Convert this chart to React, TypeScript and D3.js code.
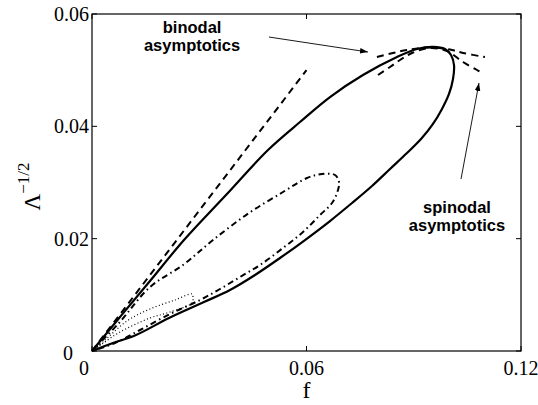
import { useEffect, useRef } from 'react'
import * as d3 from 'd3'

type Pt = [number, number]

const fTicks = [0, 0.06, 0.12]
const lambdaTicks = [0, 0.02, 0.04, 0.06]
const fTickLabels = ['0', '0.06', '0.12']
const lambdaTickLabels = ['0', '0.02', '0.04', '0.06']

// big closed loop (solid)
const solidLoop: Pt[] = [
  [0, 0], [0.00783, 0.00605], [0.01622, 0.01246], [0.02573, 0.01976], [0.03748, 0.02777],
  [0.04923, 0.03579], [0.05818, 0.04077], [0.06657, 0.04522], [0.0758, 0.04914],
  [0.08531, 0.05234], [0.09091, 0.05377], [0.09538, 0.05413], [0.09874, 0.05377],
  [0.10042, 0.0527], [0.10126, 0.05092], [0.10098, 0.04843], [0.09986, 0.04576],
  [0.0979, 0.0431], [0.09538, 0.04043], [0.09203, 0.03774], [0.08811, 0.03525],
  [0.08336, 0.03241], [0.07832, 0.02938], [0.07273, 0.02635], [0.06657, 0.02314],
  [0.05958, 0.01976], [0.05259, 0.01656], [0.0456, 0.01353], [0.0386, 0.01086],
  [0.03133, 0.00872], [0.02154, 0.00588], [0.01231, 0.00285], [0.00587, 0.00142], [0, 0],
]

// middle loop (dash-dot)
const dashDotLoop: Pt[] = [
  [0, 0], [0.00755, 0.00499], [0.01622, 0.01139], [0.02545, 0.01531], [0.03385, 0.01976],
  [0.04392, 0.02457], [0.05343, 0.02831], [0.06014, 0.0308], [0.06434, 0.03151],
  [0.06797, 0.03134], [0.06909, 0.03009], [0.06881, 0.02866], [0.06713, 0.02635],
  [0.06378, 0.02421], [0.05902, 0.02119], [0.05343, 0.01834], [0.04699, 0.01531],
  [0.0414, 0.01317], [0.0358, 0.01104], [0.03021, 0.00908], [0.02182, 0.00659],
  [0.01343, 0.00374], [0.00643, 0.00142], [0, 0],
]

// small loop (dotted)
const dottedLoop: Pt[] = [
  [0, 0], [0.00336, 0.00178], [0.00979, 0.00534], [0.01622, 0.00748], [0.02322, 0.00908],
  [0.02797, 0.01015], [0.02825, 0.00944], [0.02797, 0.00855], [0.02182, 0.00694],
  [0.01622, 0.00588], [0.00783, 0.00338], [0.0028, 0.00125], [0, 0],
]

// asymptotics (dashed)
const binodalLine: Pt[] = [[0, 0], [0.06, 0.05]]
const binodalPeak: Pt[] = [
  [0.0797, 0.05234], [0.0842, 0.05306], [0.0881, 0.05359], [0.0946, 0.05404],
  [0.1007, 0.05359], [0.1038, 0.05306], [0.1099, 0.05234],
]
const spinodalPeak: Pt[] = [
  [0.08, 0.04914], [0.08336, 0.05056], [0.08615, 0.05181], [0.08951, 0.05306],
  [0.09455, 0.05395], [0.0993, 0.05341], [0.10378, 0.05145], [0.10769, 0.05003],
  [0.10909, 0.0495],
]

// annotations
const binodalText = ['binodal', 'asymptotics']
const binodalTextAt: Pt = [0.028, 0.05662]
const binodalArrow: Pt[] = [[0.0495, 0.0559], [0.0772, 0.05323]]
const spinodalText = ['spinodal', 'asymptotics']
const spinodalTextAt: Pt = [0.1021, 0.02457]
const spinodalArrow: Pt[] = [[0.10322, 0.03062], [0.10825, 0.04772]]

const W = 538
const H = 405

export default function App() {
  const svgRef = useRef<SVGSVGElement>(null)

  useEffect(() => {
    if (!svgRef.current) return
    const margin = { top: 14, right: 17, bottom: 54, left: 92 }
    const innerW = W - margin.left - margin.right
    const innerH = H - margin.top - margin.bottom
    const serif = '"Liberation Serif", "Times New Roman", serif'
    const sans = '"Liberation Sans", Arial, sans-serif'

    const svg = d3.select(svgRef.current)
    svg.selectAll('*').remove()
    svg.attr('width', W).attr('height', H)

    const g = svg.append('g').attr('transform', `translate(${margin.left},${margin.top})`)

    const x = d3.scaleLinear().domain([0, 0.12]).range([0, innerW])
    const y = d3.scaleLinear().domain([0, 0.06]).range([innerH, 0])

    const line = d3.line<Pt>().x(d => x(d[0])).y(d => y(d[1])).curve(d3.curveCatmullRom.alpha(0.5))

    // Box + inward ticks
    g.append('rect').attr('width', innerW).attr('height', innerH)
      .attr('fill', 'none').attr('stroke', '#000').attr('stroke-width', 1.2)
    const tl = 5
    fTicks.forEach(t => {
      g.append('line').attr('x1', x(t)).attr('x2', x(t)).attr('y1', innerH).attr('y2', innerH - tl).attr('stroke', '#000')
      g.append('line').attr('x1', x(t)).attr('x2', x(t)).attr('y1', 0).attr('y2', tl).attr('stroke', '#000')
    })
    lambdaTicks.forEach(t => {
      g.append('line').attr('x1', 0).attr('x2', tl).attr('y1', y(t)).attr('y2', y(t)).attr('stroke', '#000')
      g.append('line').attr('x1', innerW).attr('x2', innerW - tl).attr('y1', y(t)).attr('y2', y(t)).attr('stroke', '#000')
    })

    // Tick labels
    fTicks.forEach((t, i) => {
      g.append('text').attr('x', x(t)).attr('dx', t === 0 ? -8 : 0).attr('y', innerH + 24)
        .attr('text-anchor', 'middle').attr('font-family', serif).attr('font-size', '20px')
        .text(fTickLabels[i])
    })
    lambdaTicks.forEach((t, i) => {
      g.append('text').attr('x', t === 0 ? -19 : -3).attr('y', y(t)).attr('dy', t === 0 ? '0.45em' : '0.35em')
        .attr('text-anchor', 'end').attr('font-family', serif).attr('font-size', '20px')
        .text(lambdaTickLabels[i])
    })

    // Axis labels
    svg.append('text').attr('x', margin.left + x(0.06)).attr('y', 398)
      .attr('text-anchor', 'middle').attr('font-family', serif).attr('font-size', '24px').text('f')
    const yl = svg.append('text').attr('transform', `translate(40,${margin.top + innerH / 2 + 4}) rotate(-90)`)
      .attr('text-anchor', 'middle').attr('font-family', serif).attr('font-size', '23px')
    yl.append('tspan').text('Λ')
    yl.append('tspan').attr('dy', -11).attr('font-size', '17px').text('−1/2')

    // Curves
    const curves: { pts: Pt[]; dash: string | null; w: number }[] = [
      { pts: solidLoop, dash: null, w: 2.2 },
      { pts: dashDotLoop, dash: '6,3.5,1.5,3.5', w: 2 },
      { pts: dottedLoop, dash: '1,2.4', w: 1.2 },
      { pts: binodalLine, dash: '7,5', w: 2 },
      { pts: binodalPeak, dash: '7,5', w: 2 },
      { pts: spinodalPeak, dash: '7,5', w: 2 },
    ]
    curves.forEach(c => {
      g.append('path').attr('d', c.pts.length === 2 ? d3.line<Pt>().x(d => x(d[0])).y(d => y(d[1]))(c.pts) : line(c.pts))
        .attr('fill', 'none').attr('stroke', '#000').attr('stroke-width', c.w)
        .attr('stroke-dasharray', c.dash).attr('stroke-linejoin', 'round')
    })

    // Annotations
    const defs = svg.append('defs')
    defs.append('marker').attr('id', 'arr').attr('viewBox', '0 0 10 10').attr('refX', 10).attr('refY', 5)
      .attr('markerWidth', 8).attr('markerHeight', 8).attr('markerUnits', 'userSpaceOnUse').attr('orient', 'auto')
      .append('path').attr('d', 'M0,1.5 L10,5 L0,8.5 Z').attr('fill', '#000')

    const arrow = (pts: Pt[]) => {
      g.append('line')
        .attr('x1', x(pts[0][0])).attr('y1', y(pts[0][1]))
        .attr('x2', x(pts[1][0])).attr('y2', y(pts[1][1]))
        .attr('stroke', '#000').attr('stroke-width', 0.9).attr('marker-end', 'url(#arr)')
    }
    arrow(binodalArrow)
    arrow(spinodalArrow)

    const label = (lines: string[], at: Pt) => {
      lines.forEach((s, i) => {
        g.append('text').attr('x', x(at[0])).attr('y', y(at[1]) + i * 18.5)
          .attr('text-anchor', 'middle').attr('font-family', sans).attr('font-weight', 'bold')
          .attr('font-size', '16.5px').text(s)
      })
    }
    label(binodalText, binodalTextAt)
    label(spinodalText, spinodalTextAt)
  }, [])

  return (
    <div style={{ position: 'absolute', left: 0, top: 0 }}>
      <svg ref={svgRef} style={{ display: 'block', background: '#fff' }} />
    </div>
  )
}
